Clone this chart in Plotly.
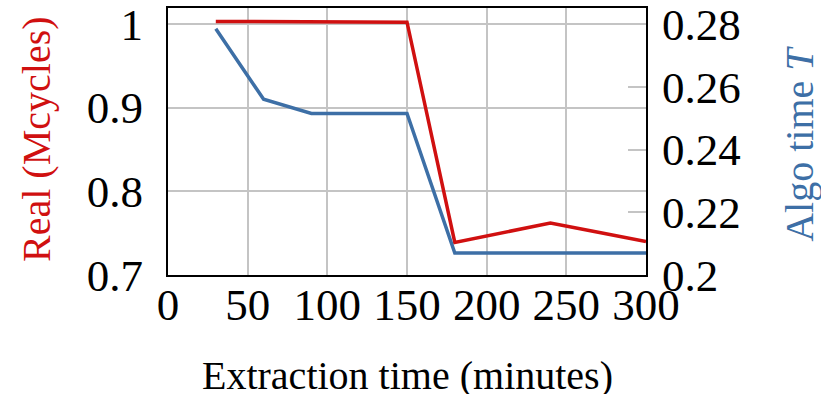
import plotly.graph_objects as go

x_minutes = [30, 60, 90, 120, 150, 180, 210, 240, 270, 300]
real_mcycles = [1.003, 1.003, 1.002, 1.003, 1.002, 0.739, 0.750, 0.762, 0.751, 0.740]
algo_time = [0.2785, 0.256, 0.2515, 0.2515, 0.2515, 0.207, 0.207, 0.207, 0.207, 0.207]

x_ticks = [0, 50, 100, 150, 200, 250, 300]
left_ticks = [0.7, 0.8, 0.9, 1.0]
left_labels = ["0.7", "0.8", "0.9", "1"]
right_ticks = [0.2, 0.22, 0.24, 0.26, 0.28]
right_labels = ["0.2", "0.22", "0.24", "0.26", "0.28"]

RED = "#d01010"
BLUE = "#3d6fa6"
GRID = "#c4c4c4"
FONT = "Liberation Serif"

fig = go.Figure()
fig.add_trace(go.Scatter(x=x_minutes, y=real_mcycles, mode="lines",
                         line=dict(color=RED, width=3.5), yaxis="y", showlegend=False))
fig.add_trace(go.Scatter(x=x_minutes, y=algo_time, mode="lines",
                         line=dict(color=BLUE, width=3.5), yaxis="y2", showlegend=False))

fig.update_layout(
    width=821, height=394,
    margin=dict(l=168, r=175, t=8, b=119, autoexpand=False),
    paper_bgcolor="white", plot_bgcolor="white",
    font=dict(family=FONT, color="black", size=45),
    xaxis=dict(range=[0, 300], tickvals=x_ticks, ticktext=[str(v) for v in x_ticks],
               showgrid=True, gridcolor=GRID, gridwidth=1.8,
               showline=True, linecolor="black", linewidth=2, mirror=True,
               ticks="", zeroline=False, tickfont=dict(size=45), automargin=False,
               ticklabeloverflow="allow", ticklabelstandoff=-11),
    yaxis=dict(range=[0.7, 1.019], tickvals=left_ticks, ticktext=left_labels,
               showgrid=True, gridcolor=GRID, gridwidth=1.8,
               showline=True, linecolor="black", linewidth=2, mirror=True,
               ticks="", zeroline=False, tickfont=dict(size=45), ticklabelstandoff=14,
               automargin=False, ticklabeloverflow="allow"),
    yaxis2=dict(range=[0.2, 0.2851], tickvals=right_ticks, ticktext=right_labels,
                overlaying="y", side="right", showgrid=False,
                ticks="inside", ticklen=18, tickcolor=GRID, tickwidth=1.8,
                zeroline=False, tickfont=dict(size=45), ticklabelstandoff=15,
                automargin=False, ticklabeloverflow="allow"),
    annotations=[
        dict(text="Extraction time (minutes)", xref="paper", yref="paper",
             x=0.502, y=-0.375, xanchor="center", yanchor="middle",
             showarrow=False, font=dict(size=40, color="black")),
        dict(text="Real (Mcycles)", xref="paper", yref="paper",
             x=-0.274, y=0.506, xanchor="center", yanchor="middle", textangle=-90,
             showarrow=False, font=dict(size=40, color=RED)),
        dict(text="Algo time <i>T</i>", xref="paper", yref="paper",
             x=1.322, y=0.491, xanchor="center", yanchor="middle", textangle=-90,
             showarrow=False, font=dict(size=40, color=BLUE)),
    ],
)

fig.write_html("out.html", config={"displayModeBar": False},
               post_script="document.body.style.margin='0px';document.body.style.overflow='hidden';")
